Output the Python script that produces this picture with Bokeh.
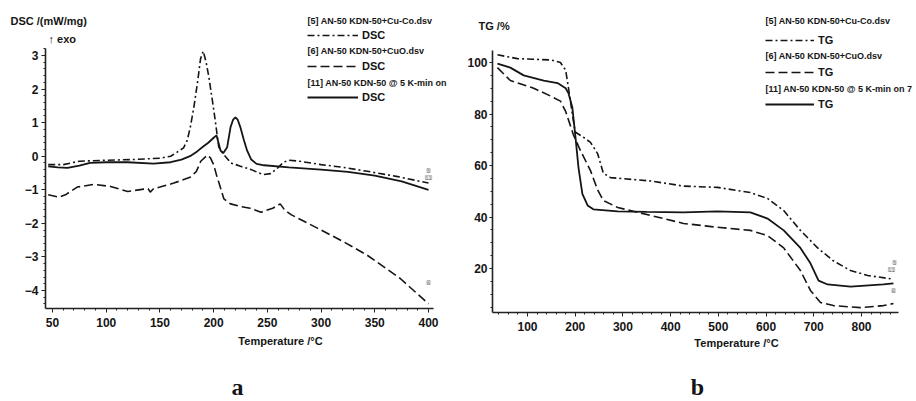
from bokeh.plotting import figure
from bokeh.layouts import row
from bokeh.models import Range1d, Label, Legend, LegendItem, SingleIntervalTicker
from bokeh.embed import file_html
from bokeh.resources import INLINE

# ---------------- DATA ----------------
# DSC panel (a)
dsc_T_5 = [46, 60, 75, 100, 125, 150, 160, 166, 172, 175.4, 178.5, 181.6, 185, 187.8, 190.3, 193, 195.6,
           200.2, 204.8, 208.9, 216, 225, 235, 246, 253, 259, 265, 270, 280, 300, 320, 343, 370, 400]
dsc_V_5 = [-0.25, -0.25, -0.15, -0.12, -0.1, -0.06, 0.0, 0.12, 0.25, 0.47, 0.9, 1.46, 2.2, 2.9, 3.13, 2.8, 2.35,
           1.36, 0.27, 0.07, -0.2, -0.3, -0.4, -0.55, -0.52, -0.37, -0.18, -0.12, -0.15, -0.25, -0.33, -0.45, -0.6, -0.8]

dsc_T_6 = [46, 56, 62, 73, 88, 104, 120, 135, 139, 141, 144, 150, 163, 178, 184, 188, 194, 197, 200, 203,
           205, 209.5, 215.7, 225, 234, 244, 255, 262, 266, 272, 297, 321, 343, 374, 400]
dsc_V_6 = [-1.15, -1.22, -1.15, -0.92, -0.84, -0.9, -1.05, -0.98, -0.97, -1.07, -0.97, -0.92, -0.8, -0.63, -0.45,
           -0.15, 0.03, -0.05, -0.25, -0.6, -0.8, -1.27, -1.42, -1.5, -1.55, -1.67, -1.55, -1.42, -1.6, -1.74,
           -2.15, -2.55, -2.95, -3.65, -4.4]

dsc_T_11 = [46, 55, 64, 75, 85, 100, 120, 144, 160, 170, 178, 185, 190, 195, 200, 202.7, 204.5, 206.4,
            208.9, 212.6, 215.7, 218, 220.3, 222.5, 224.9, 228, 231.1, 235, 240, 247, 270, 300, 325, 350, 375, 400]
dsc_V_11 = [-0.3, -0.33, -0.35, -0.28, -0.2, -0.18, -0.18, -0.22, -0.18, -0.1, 0.0, 0.15, 0.28, 0.4, 0.55, 0.62,
            0.4, 0.17, 0.09, 0.27, 0.86, 1.08, 1.16, 1.08, 0.86, 0.5, 0.17, -0.1, -0.23, -0.27, -0.33, -0.4,
            -0.47, -0.58, -0.75, -1.0]

# TG panel (b)
tg_T_5 = [37, 79, 148, 169, 180, 186, 194, 200, 217, 232, 247, 259, 274, 358, 427, 498, 567, 603, 637, 672,
          708, 741, 777, 813, 861]
tg_V_5 = [103, 101.5, 101, 100, 97, 90, 80, 73, 71, 69, 64.6, 57, 55.3, 54, 52, 51.5, 49.5, 47.2, 42.5, 34.8,
          28, 23, 19.2, 17.3, 16]

tg_T_6 = [37, 64, 113, 148, 169, 180, 196, 211, 232, 247, 259, 289, 358, 427, 498, 567, 603, 637, 672, 693,
          714, 741, 798, 846, 867]
tg_V_6 = [98, 93, 90, 87, 85, 81, 72, 65.8, 58, 50.5, 46.4, 43.7, 40.6, 37.5, 36, 34.8, 32.8, 28, 19.2, 11.5,
          6.8, 5.6, 4.8, 5.6, 6.4]

tg_T_11 = [37, 64, 92, 134, 163, 180, 186, 194, 200, 207, 215, 226, 238, 289, 350, 427, 498, 567, 603, 637,
           672, 693, 710, 729, 777, 846, 867]
tg_V_11 = [99.6, 98, 95, 93, 92, 90, 88, 82.5, 72, 59, 49, 44.5, 43, 42.2, 42, 41.8, 42.2, 41.8, 39.4, 34.8,
           28, 22, 15.3, 13.8, 13, 13.8, 14.2]

legend_titles = ["[5] AN-50 KDN-50+Cu-Co.dsv", "[6] AN-50 KDN-50+CuO.dsv", "[11] AN-50 KDN-50 @ 5 K-min on 7"]
dsc_title = "DSC /(mW/mg)"
tg_title = "TG /%"
x_title = "Temperature /\u00b0C"

# ---------------- STYLE ----------------
FONT = "Liberation Sans"
DASHDOT = "7 3 2 3"
DASH = "9 4"
LW = 1.6
INK = "#151515"
HEAD = "9px"


def style_axes(p, xint, yint, xminor, yminor, ytick_out, ystandoff, xstandoff):
    p.grid.visible = False
    p.outline_line_color = None
    p.background_fill_color = "white"
    p.border_fill_color = "white"
    p.xaxis.ticker = SingleIntervalTicker(interval=xint, num_minor_ticks=xminor)
    p.yaxis.ticker = SingleIntervalTicker(interval=yint, num_minor_ticks=yminor)
    for ax in (p.xaxis, p.yaxis):
        ax.axis_line_color = "#222222"
        ax.axis_line_width = 1.6
        ax.major_tick_line_color = "#222222"
        ax.minor_tick_line_color = "#222222"
        ax.major_tick_in = 0
        ax.minor_tick_in = 0
        ax.minor_tick_out = 2
        ax.major_label_text_font = FONT
        ax.major_label_text_font_style = "bold"
        ax.major_label_text_font_size = "12px"
        ax.major_label_text_color = INK
    p.xaxis.major_tick_out = 4
    p.yaxis.major_tick_out = ytick_out
    p.yaxis.major_label_standoff = ystandoff
    p.xaxis.major_label_standoff = xstandoff


def txt(p, x, y, s, size="11px", align="left", font=FONT, style="bold", color=INK):
    p.add_layout(Label(x=x, y=y, text=s, text_font=font, text_font_style=style, text_font_size=size,
                       text_align=align, text_baseline="middle", text_color=color))


def marker(p, x, y, s):
    p.add_layout(Label(x=x, y=y, text=s, text_font="DejaVu Sans", text_font_size="5px", text_color="#777777",
                       text_align="center", text_baseline="middle",
                       border_line_color="#999999", border_line_width=0.6,
                       background_fill_color="#e8e8e8"))


def make_fig(w, xr, yr):
    return figure(width=w, height=401, output_backend="svg", toolbar_location=None,
                  x_range=xr, y_range=yr,
                  min_border_left=0, min_border_right=0, min_border_top=0, min_border_bottom=0)


# ---------------- PANEL a (DSC) ----------------
# pixel helpers (panel canvas px -> data)
ax_ = lambda px: 50 + (px - 52) / 1.0743
ay_ = lambda py: (155.7 - py) / 33.57

W1 = 456
p1 = make_fig(W1, Range1d(ax_(0), ax_(W1)), Range1d(ay_(401), ay_(0)))
style_axes(p1, 50, 1, 5, 5, 4, 3, 5)
p1.xaxis.fixed_location = ay_(308)
p1.yaxis.fixed_location = ax_(45)
p1.xaxis.bounds = (ax_(45), ax_(433))
p1.yaxis.bounds = (ay_(308), ay_(48))

r5 = p1.line(dsc_T_5, dsc_V_5, line_color=INK, line_width=LW, line_dash=DASHDOT)
r6 = p1.line(dsc_T_6, dsc_V_6, line_color=INK, line_width=LW, line_dash=DASH)
r11 = p1.line(dsc_T_11, dsc_V_11, line_color=INK, line_width=LW + 0.2)

leg1 = Legend(items=[LegendItem(label="DSC", renderers=[r5]),
                     LegendItem(label="DSC", renderers=[r6]),
                     LegendItem(label="DSC", renderers=[r11])],
              location=(307, 401 - 105), glyph_width=51, glyph_height=16, label_height=16,
              spacing=15, padding=0, margin=0, label_standoff=4,
              border_line_alpha=0, background_fill_alpha=0,
              label_text_font=FONT, label_text_font_style="bold", label_text_font_size="11px",
              label_text_color=INK)
p1.add_layout(leg1)

txt(p1, ax_(10), ay_(20), dsc_title)
txt(p1, ax_(48), ay_(38), "\u2191 exo")
for t, py in zip(legend_titles[:2] + ["[11] AN-50 KDN-50 @ 5 K-min on"], [20, 50, 82]):
    txt(p1, ax_(307), ay_(py), t, size=HEAD)
txt(p1, ax_(280), ay_(340), x_title, align="center")
txt(p1, ax_(237), ay_(386), "a", size="24px", align="center", font="Liberation Serif")
marker(p1, ax_(428), ay_(170), "5")
marker(p1, ax_(428), ay_(177), "11")
marker(p1, ax_(428), ay_(282), "6")

# ---------------- PANEL b (TG) ----------------
OFF = W1
W2 = 916 - W1
bx_ = lambda px: 100 + (px + OFF - 527) / 0.47714   # px local to panel b
by_ = lambda py: 20 + (268 - py) / 2.575

p2 = make_fig(W2, Range1d(bx_(0), bx_(W2)), Range1d(by_(401), by_(0)))
style_axes(p2, 100, 20, 5, 4, 3, 2, 5)
p2.xaxis.fixed_location = by_(312)
p2.yaxis.fixed_location = bx_(492 - OFF)
p2.xaxis.bounds = (bx_(492 - OFF), bx_(898 - OFF))
p2.yaxis.bounds = (by_(312), by_(50))

q5 = p2.line(tg_T_5, tg_V_5, line_color=INK, line_width=LW, line_dash=DASHDOT)
q6 = p2.line(tg_T_6, tg_V_6, line_color=INK, line_width=LW, line_dash=DASH)
q11 = p2.line(tg_T_11, tg_V_11, line_color=INK, line_width=LW + 0.2)

leg2 = Legend(items=[LegendItem(label="TG", renderers=[q5]),
                     LegendItem(label="TG", renderers=[q6]),
                     LegendItem(label="TG", renderers=[q11])],
              location=(765 - OFF, 401 - 112), glyph_width=49, glyph_height=16, label_height=16,
              spacing=16, padding=0, margin=0, label_standoff=4,
              border_line_alpha=0, background_fill_alpha=0,
              label_text_font=FONT, label_text_font_style="bold", label_text_font_size="11px",
              label_text_color=INK)
p2.add_layout(leg2)

txt(p2, bx_(478 - OFF), by_(25), tg_title)
for t, py in zip(legend_titles, [20, 55, 88]):
    txt(p2, bx_(765 - OFF), by_(py), t, size=HEAD)
txt(p2, bx_(736 - OFF), by_(342), x_title, align="center")
txt(p2, bx_(697 - OFF), by_(386), "b", size="24px", align="center", font="Liberation Serif")
marker(p2, bx_(894 - OFF), by_(262), "5")
marker(p2, bx_(891 - OFF), by_(269), "11")
marker(p2, bx_(893 - OFF), by_(290), "6")

layout = row(p1, p2, spacing=0)
open("out.html", "w").write(file_html(layout, INLINE))
